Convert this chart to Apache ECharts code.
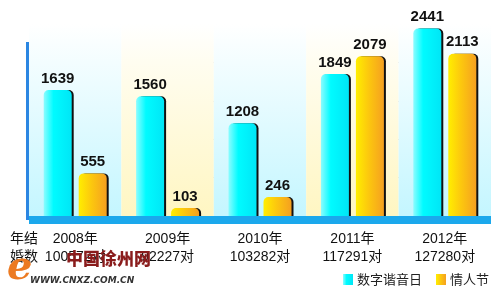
<!DOCTYPE html>
<html>
<head>
<meta charset="utf-8">
<script src="https://cdn.jsdelivr.net/npm/echarts@6/dist/echarts.min.js"></script>
<style>
html,body{margin:0;padding:0;background:#fff;}
#c{width:500px;height:290px;}
</style>
</head>
<body>
<div id="c"></div>
<script>
var categories = ['2008年', '2009年', '2010年', '2011年', '2012年'];
var couples = ['100572对', '92227对', '103282对', '117291对', '127280对'];
var seriesNames = ['数字谐音日', '情人节'];
var digitDay = [1639, 1560, 1208, 1849, 2441];
var valentine = [555, 103, 246, 2079, 2113];
var yMax = 2500;
var yInterval = 500;

var G = echarts.graphic.LinearGradient;
var cyanFill = new G(0, 0, 1, 0, [
  {offset: 0, color: '#8cfcff'},
  {offset: 0.35, color: '#00fbff'},
  {offset: 1, color: '#00e6f6'}
]);
var orangeFill = new G(0, 0, 1, 0, [
  {offset: 0, color: '#ffee00'},
  {offset: 0.45, color: '#fcc80e'},
  {offset: 1, color: '#f5a020'}
]);
var cyanBand = new G(0, 0, 0, 1, [
  {offset: 0, color: '#ffffff'},
  {offset: 0.2, color: '#f3fdff'},
  {offset: 1, color: '#c4f6ff'}
]);
var yellowBand = new G(0, 0, 0, 1, [
  {offset: 0, color: '#ffffff'},
  {offset: 0.2, color: '#fffdf0'},
  {offset: 1, color: '#fff6c2'}
]);

var labelFont = '"Liberation Sans Narrow", "Liberation Sans", Arial, sans-serif';
var barLabel = {
  show: true, position: 'top', distance: 4,
  fontFamily: labelFont, fontWeight: 'bold', fontSize: 15, color: '#111'
};

var chart = echarts.init(document.getElementById('c'), null, {renderer: 'canvas'});
chart.setOption({
  animation: false,
  backgroundColor: '#ffffff',
  grid: {left: 29, right: 9, top: 24, bottom: 74},
  legend: {
    data: seriesNames,
    right: 6, top: 268,
    itemWidth: 10, itemHeight: 11, itemGap: 14,
    icon: 'rect',
    textStyle: {fontSize: 13, color: '#222', fontFamily: '"Noto Sans CJK SC", sans-serif', padding: [0, 0, 0, -1]}
  },
  xAxis: [{
    type: 'category', data: categories, z: 0,
    axisLine: {show: false}, axisTick: {show: false}, axisLabel: {show: false},
    splitArea: {show: true, areaStyle: {color: [cyanBand, yellowBand]}}
  }, {
    type: 'category', data: categories, z: 5, offset: 4, position: 'bottom',
    axisLine: {show: true, lineStyle: {color: '#1ba8ec', width: 8, cap: 'butt'}},
    axisTick: {show: false},
    axisLabel: {
      margin: 10, fontSize: 14, lineHeight: 18, color: '#111',
      fontFamily: '"Liberation Sans", Arial, "Noto Sans CJK SC", sans-serif',
      formatter: function (v, i) { return v + '\n' + couples[i]; }
    }
  }],
  yAxis: {
    type: 'value', min: 0, max: yMax, interval: yInterval,
    axisLine: {show: false}, axisTick: {show: false}, axisLabel: {show: false},
    splitLine: {show: true, lineStyle: {type: [4, 4], width: 1,
      color: ['rgba(0,0,0,0)', '#cfcfcf', '#cfcfcf', '#cfcfcf', '#cfcfcf', 'rgba(0,0,0,0)']}}
  },
  series: [{
    name: seriesNames[0], type: 'bar', data: digitDay, xAxisIndex: 0,
    barWidth: 28, barGap: '25%',
    itemStyle: {color: cyanFill, borderRadius: [5, 5, 0, 0],
      shadowColor: '#111', shadowBlur: 0, shadowOffsetX: 2, shadowOffsetY: 0},
    label: barLabel
  }, {
    name: seriesNames[1], type: 'bar', data: valentine, xAxisIndex: 0,
    barWidth: 28,
    itemStyle: {color: orangeFill, borderRadius: [5, 5, 0, 0],
      shadowColor: '#111', shadowBlur: 0, shadowOffsetX: 2, shadowOffsetY: 0},
    label: barLabel
  }],
  graphic: [
    {type: 'rect', left: 26, top: 42, z: 10, shape: {width: 3, height: 178}, style: {fill: '#2b86e2'}},
    {type: 'text', left: 10, top: 229, z: 10, style: {text: '年结\n婚数', fontSize: 14, lineHeight: 18, fill: '#111', fontFamily: '"Noto Sans CJK SC", sans-serif'}},
    {type: 'text', left: 7, top: 249, z: 11, style: {text: 'e', fontSize: 40, fontStyle: 'italic', fontWeight: 'bold', fill: '#ec7a22', fontFamily: '"DejaVu Serif", serif'}},
    {type: 'text', left: 66, top: 250, z: 11, style: {text: '中国徐州网', fontSize: 17, fontWeight: 900, fill: '#8a1c1c', fontFamily: '"Noto Sans CJK SC", sans-serif'}},
    {type: 'text', left: 30, top: 276, z: 11, style: {text: 'WWW.CNXZ.COM.CN', fontSize: 9, fontStyle: 'italic', fontWeight: 'bold', fill: '#333', fontFamily: '"DejaVu Sans", sans-serif'}}
  ]
});
</script>
</body>
</html>
